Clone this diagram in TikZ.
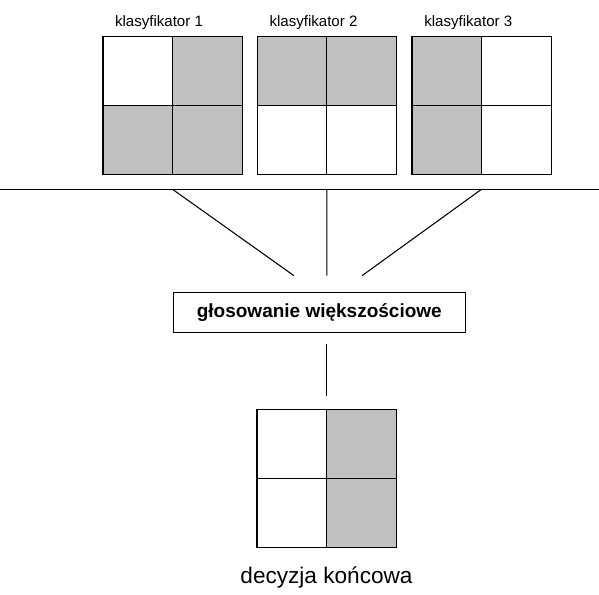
\documentclass[tikz,border=0pt]{standalone}
\usepackage{fontspec}
\setmainfont{Liberation Sans}
\usetikzlibrary{calc}
\definecolor{szary}{RGB}{192,192,192}

\tikzset{
  siatka/.style={minimum width=103.5pt, minimum height=102.75pt, inner sep=0pt},
  etykieta/.style={anchor=base, font=\fontsize{11.3}{13}\selectfont},
  glosowanie/.style={draw, minimum width=219pt, minimum height=30.3pt, inner sep=0pt, font=\bfseries\fontsize{14.25}{17}\selectfont},
  wynik/.style={anchor=base, font=\fontsize{16.95}{20}\selectfont},
}

\begin{document}
\begin{tikzpicture}[x=0.75pt,y=-0.75pt,line width=0.8pt]
\useasboundingbox (0,0) rectangle (599,595);
% siatki klasyfikatorow i decyzji
\node[siatka] (k1) at (172.5,105.5) {};
\node[siatka] (k2) at (326.8,105.5) {};
\node[siatka] (k3) at (481.5,105.5) {};
\node[siatka] (dec) at (326.5,478.5) {};
\foreach \s/\a/\b in {k1/north/east, k1/west/south, k1/center/south east,
                      k2/north west/east,
                      k3/north west/south,
                      dec/north/south east}
  \fill[szary] (\s.\a) rectangle (\s.\b);
\foreach \s in {k1,k2,k3,dec}
  \draw (\s.north west) rectangle (\s.south east) (\s.north) -- (\s.south) (\s.west) -- (\s.east);
\node[etykieta] (l1) at (159,26.7) {klasyfikator 1};
\node[etykieta] (l2) at (313.5,26.7) {klasyfikator 2};
\node[etykieta] (l3) at (468.3,26.7) {klasyfikator 3};
% szyna i glosowanie
\coordinate (szynaL) at (0,189.3);
\coordinate (szynaP) at (599,189.3);
\draw (szynaL) -- (szynaP);
\node[glosowanie] (gl) at (319.3,312.5) {głosowanie większościowe};
\coordinate (w1) at (294,275.7);
\coordinate (w2) at (326.8,275.7);
\coordinate (w3) at (362,275.7);
\draw (k1 |- szynaL) -- (w1) (k2 |- szynaL) -- (w2) (k3 |- szynaL) -- (w3);
\coordinate (d1) at (326.7,344.3);
\coordinate (d2) at (326.7,396);
\draw (d1) -- (d2);
\node[wynik] (opis) at (326.5,583.5) {decyzja końcowa};
\end{tikzpicture}
\end{document}
